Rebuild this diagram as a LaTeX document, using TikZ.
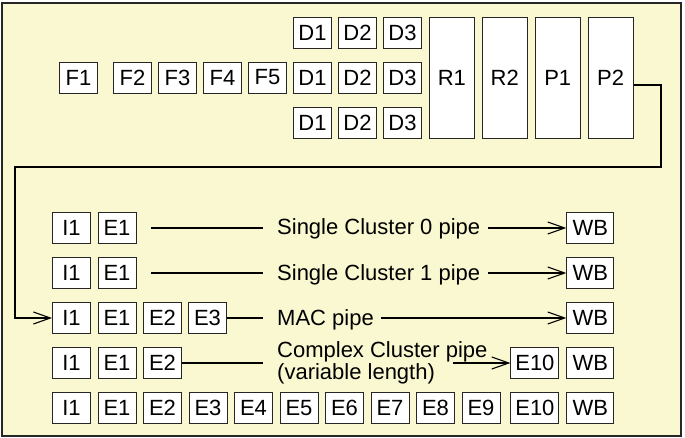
\documentclass[tikz,border=0pt]{standalone}
\usepackage{fontspec}
\setmainfont{Liberation Sans}
\usetikzlibrary{positioning,arrows.meta}
\definecolor{cream}{RGB}{250,248,208}

\begin{document}
\begin{tikzpicture}[
    x=1pt, y=-1pt,
    node distance=45pt,
    >={Straight Barb[length=17pt,width=12pt]},
    stage/.style={draw=black!85,fill=white,line width=0.9pt,inner sep=0pt,minimum width=38pt,minimum height=31pt,font=\fontsize{22}{22}\selectfont},
    tall/.style={stage,minimum width=45pt,minimum height=121pt},
    wide/.style={stage,minimum width=48pt},
    pipename/.style={inner sep=0pt,font=\fontsize{22}{17}\selectfont},
    wire/.style={line width=1.1pt}
    ]
        \useasboundingbox (0,0) rectangle (685,438);
        \draw [fill=cream,draw=black!85,line width=1.3pt] (2,3) rectangle (681,436);

        % front end
        \node [stage](F1) at (78.5,77.5) {F1};
        \node [stage](F2) [node distance=54pt,right of=F1] {F2};
        \node [stage](F3) [right of=F2] {F3};
        \node [stage](F4) [right of=F3] {F4};
        \node [stage](F5) [right of=F4] {F5};
        \node [stage](D1b) [right of=F5] {D1};
        \node [stage](D2b) [right of=D1b] {D2};
        \node [stage](D3b) [right of=D2b] {D3};
        \node [stage](D1a) [above of=D1b] {D1};
        \node [stage](D2a) [above of=D2b] {D2};
        \node [stage](D3a) [above of=D3b] {D3};
        \node [stage](D1c) [below of=D1b] {D1};
        \node [stage](D2c) [below of=D2b] {D2};
        \node [stage](D3c) [below of=D3b] {D3};
        \node [tall](R1) [right=7pt of D3b] {R1};
        \node [tall](R2) [right=7pt of R1] {R2};
        \node [tall](P1) [right=7pt of R2] {P1};
        \node [tall](P2) [right=7pt of P1] {P2};

        % back end pipes
        \begin{scope}[node distance=45.5pt]
        \node [stage](I1r5) at (71.5,408) {I1};
        \node [stage](E1r5) [right of=I1r5] {E1};
        \node [stage](E2r5) [right of=E1r5] {E2};
        \node [stage](E3r5) [right of=E2r5] {E3};
        \node [stage](E4r5) [right of=E3r5] {E4};
        \node [stage](E5r5) [right of=E4r5] {E5};
        \node [stage](E6r5) [right of=E5r5] {E6};
        \node [stage](E7r5) [right of=E6r5] {E7};
        \node [stage](E8r5) [right of=E7r5] {E8};
        \node [stage](E9r5) [right of=E8r5] {E9};
        \end{scope}
        \node [wide](E10r5) [right=10pt of E9r5] {E10};
        \node [stage,minimum width=47pt](WBr5) [right=7pt of E10r5] {WB};

        \node [stage](I1r4) [above of=I1r5] {I1};
        \node [stage](E1r4) [above of=E1r5] {E1};
        \node [stage](E2r4) [above of=E2r5] {E2};
        \node [wide](E10r4) [above of=E10r5] {E10};
        \node [stage,minimum width=47pt](WBr4) [above of=WBr5] {WB};

        \node [stage](I1r3) [above of=I1r4] {I1};
        \node [stage](E1r3) [above of=E1r4] {E1};
        \node [stage](E2r3) [above of=E2r4] {E2};
        \node [stage](E3r3) [right of=E2r3] {E3};
        \node [stage,minimum width=47pt](WBr3) [above of=WBr4] {WB};

        \node [stage](I1r2) [above of=I1r3] {I1};
        \node [stage](E1r2) [above of=E1r3] {E1};
        \node [stage,minimum width=47pt](WBr2) [above of=WBr3] {WB};

        \node [stage](I1r1) [above of=I1r2] {I1};
        \node [stage](E1r1) [above of=E1r2] {E1};
        \node [stage,minimum width=47pt](WBr1) [above of=WBr2] {WB};

        \node [pipename,anchor=base west](lbl1) at (277,235) {Single Cluster 0 pipe};
        \node [pipename,anchor=base west](lbl2) at (277,280) {Single Cluster 1 pipe};
        \node [pipename,anchor=base west](lbl3) at (277,325) {MAC pipe};
        \node [pipename,anchor=north west,align=left](lbl4) at (277,341.5) {Complex Cluster pipe\\(variable length)};

        \draw [wire,shorten <=15pt,shorten >=14pt] (E1r1.east) -- (E1r1.east -| lbl1.west);
        \draw [wire,->,shorten <=8pt] (lbl1.east |- WBr1.west) -- (WBr1.west);
        \draw [wire,shorten <=15pt,shorten >=14pt] (E1r2.east) -- (E1r2.east -| lbl2.west);
        \draw [wire,->,shorten <=8pt] (lbl2.east |- WBr2.west) -- (WBr2.west);
        \draw [wire,shorten >=14pt] (E3r3.east) -- (E3r3.east -| lbl3.west);
        \draw [wire,->,shorten <=7pt] (lbl3.east |- WBr3.west) -- (WBr3.west);
        \draw [wire,shorten >=14pt] (E2r4.east) -- (E2r4.east -| lbl4.west);
        \draw [wire,->] ([xshift=-35pt]lbl4.east |- E10r4.west) -- (E10r4.west);

        % wrap around into the MAC pipe
        \coordinate (bendR) at (661,167);
        \coordinate (bendL) at (15,167);
        \draw [wire,->] ([yshift=-7.5pt]P2.east) -| (bendR) -- (bendL) |- (I1r3.west);

\end{tikzpicture}
\end{document}
